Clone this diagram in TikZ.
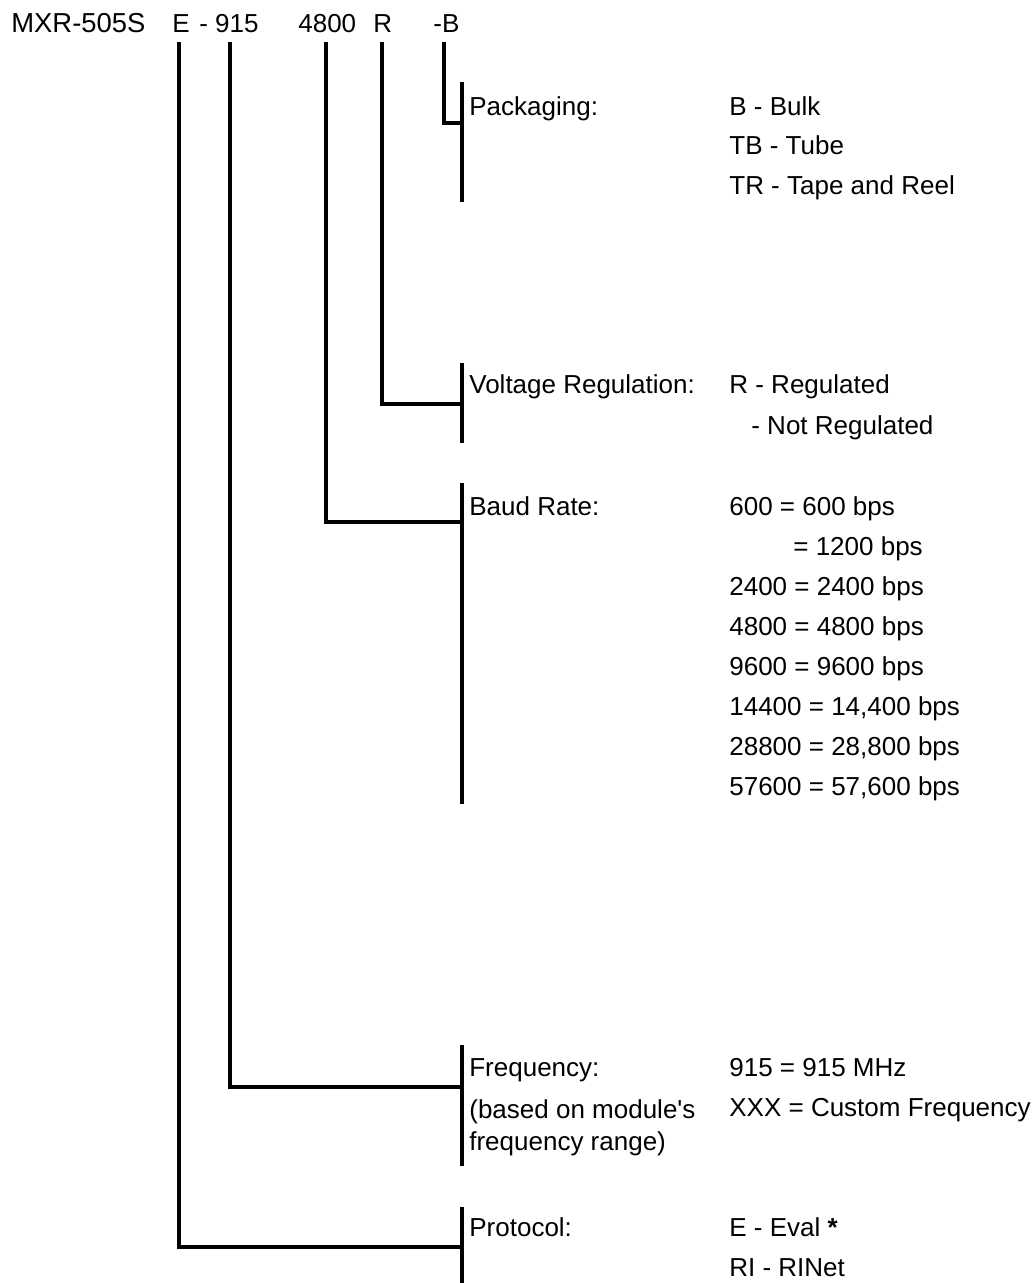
\documentclass[tikz,border=0pt]{standalone}
\usepackage{fontspec}
\setmainfont{Liberation Sans}
\usepackage{tikz}

\begin{document}
\begin{tikzpicture}[x=0.02cm, y=-0.02cm,
    txt/.style={anchor=base west, inner sep=0pt, font=\fontsize{14.8}{18}\selectfont},
    stem/.style={line width=2.3pt}]
    \useasboundingbox (0,0) rectangle (1035,1283);
    % part number
    \node[txt, font=\fontsize{15.6}{18}\selectfont] (model) at (11,33) {MXR-505S};
    \node[txt] (hdrE) at (172,33) {E};
    \node[txt] (hdrFreq) at (199,33) {- 915};
    \node[txt] (hdrBaud) at (298,33) {4800};
    \node[txt] (hdrReg) at (373,33) {R};
    \node[txt] (hdrPack) at (433,33) {-B};
    % stems and group bars
    \coordinate (packTop) at (444,42); \coordinate (packJoin) at (462,123);
    \coordinate (regTop) at (382,42);  \coordinate (regJoin) at (462,404);
    \coordinate (baudTop) at (326,42); \coordinate (baudJoin) at (462,522);
    \coordinate (freqTop) at (230,42); \coordinate (freqJoin) at (462,1087);
    \coordinate (protTop) at (179,42); \coordinate (protJoin) at (462,1247);
    \draw[stem] (packTop) |- (packJoin);
    \draw[stem] (regTop) |- (regJoin);
    \draw[stem] (baudTop) |- (baudJoin);
    \draw[stem] (freqTop) |- (freqJoin);
    \draw[stem] (protTop) |- (protJoin);
    \foreach \ya/\yb in {82/202, 363/443, 483/804, 1045/1166, 1207/1283}
      \draw[stem] (462,\ya) -- (462,\yb);
    % packaging
    \node[txt] (packLbl) at (469,116) {Packaging:};
    \node[txt] (packB) at (729,116) {B - Bulk};
    \node[txt] (packTB) at (729,155) {TB - Tube};
    \node[txt] (packTR) at (729,195) {TR - Tape and Reel};
    % voltage regulation
    \node[txt] (regLbl) at (469,394) {Voltage Regulation:};
    \node[txt] (regR) at (729,394) {R - Regulated};
    \node[txt] (regN) at (751,434) {- Not Regulated};
    % baud rate
    \node[txt] (baudLbl) at (469,515) {Baud Rate:};
    \node[txt] (baud0) at (729,515) {600 = 600 bps};
    \node[txt] (baud1) at (793,555) {= 1200 bps};
    \foreach \code/\rate [count=\i from 2] in {2400/2400, 4800/4800, 9600/9600, 14400/{14,400}, 28800/{28,800}, 57600/{57,600}}
      \node[txt] (baud\i) at (729,515+40*\i) {\code{} = \rate{} bps};
    % frequency
    \node[txt] (freqLbl) at (469,1076) {Frequency:};
    \node[txt] (freqNote) at (469,1118) {(based on module\textquotesingle s};
    \node[txt] (freqNote2) at (469,1150) {frequency range)};
    \node[txt] (freq915) at (729,1076) {915 = 915 MHz};
    \node[txt] (freqX) at (729,1116) {XXX = Custom Frequency};
    % protocol
    \node[txt] (protLbl) at (469,1236) {Protocol:};
    \node[txt] (protE) at (729,1236) {E - Eval \textbf{*}};
    \node[txt] (protRI) at (729,1276) {RI - RINet};
\end{tikzpicture}
\end{document}
